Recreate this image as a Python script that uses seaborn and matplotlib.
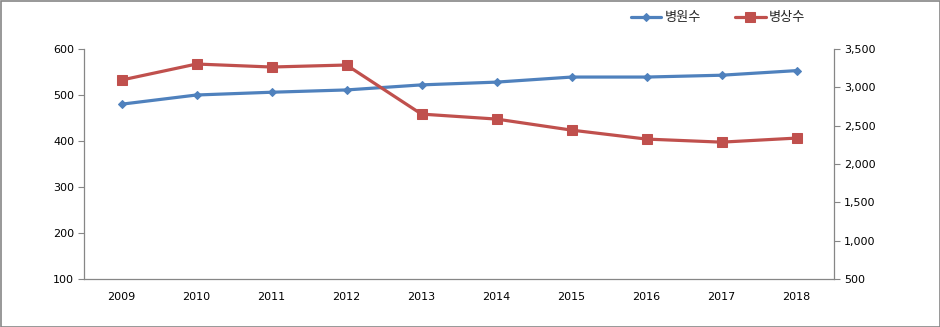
import matplotlib
matplotlib.use("Agg")
import matplotlib.pyplot as plt
import seaborn as sns
import pandas as pd
from matplotlib.patches import Rectangle
from matplotlib.ticker import FuncFormatter, FixedLocator

years = ["2009", "2010", "2011", "2012", "2013", "2014", "2015", "2016", "2017", "2018"]
hospitals = [480, 500, 506, 511, 522, 528, 539, 539, 543, 553]
beds = [3095, 3304, 3265, 3291, 2651, 2586, 2442, 2325, 2285, 2338]
label_hosp = "병원수"
label_beds = "병상수"

sns.set_theme(style="white")
plt.rcParams['font.family'] = ['DejaVu Sans', 'Noto Sans CJK KR']

df = pd.DataFrame({"year": years, "hosp": hospitals, "beds": beds})
df["x"] = range(len(years))

blue = "#4F81BD"
red = "#C0504D"
grey = "#868686"

fig = plt.figure(figsize=(9.4, 3.27), dpi=100)
ax = fig.add_axes([84/940, 1-279/327, 750/940, 230/327])
ax2 = ax.twinx()

sns.lineplot(data=df, x="x", y="hosp", ax=ax, color=blue, linewidth=2.3,
             marker="D", markersize=4.5, markeredgecolor=blue, label=label_hosp, legend=False)
sns.lineplot(data=df, x="x", y="beds", ax=ax2, color=red, linewidth=2.3,
             marker="s", markersize=6.5, markeredgecolor=red, label=label_beds, legend=False)

ax.set_xlim(-0.5, len(years) - 0.5)
ax.set_ylim(100, 600)
ax2.set_ylim(500, 3500)
ax.set_yticks(range(100, 601, 100))
ax2.set_yticks(range(500, 3501, 500))
ax2.yaxis.set_major_formatter(FuncFormatter(lambda v, p: f"{int(v):,}"))

ax.set_xticks(range(len(years)))
ax.set_xticklabels(years)
ax.xaxis.set_minor_locator(FixedLocator([i - 0.5 for i in range(len(years) + 1)]))
ax.tick_params(axis="x", which="major", length=0, pad=9, labelsize=8, colors="black")
ax.tick_params(axis="x", which="minor", length=4, width=0.8, color=grey, direction="out")
ax.tick_params(axis="y", length=4, width=0.8, color=grey, direction="out", labelsize=8,
               labelcolor="black", pad=3)
ax2.tick_params(axis="y", length=4, width=0.8, color=grey, direction="out", labelsize=8,
                labelcolor="black", pad=3)
ax.set_xlabel("")
ax.set_ylabel("")
ax2.set_ylabel("")

for a in (ax, ax2):
    for s in a.spines.values():
        s.set_color(grey)
        s.set_linewidth(0.9)
    a.spines["top"].set_visible(False)
ax.spines["right"].set_visible(False)
ax2.spines["left"].set_visible(False)
ax2.spines["bottom"].set_visible(False)
ax.grid(False)
ax2.grid(False)

h1, l1 = ax.get_legend_handles_labels()
h2, l2 = ax2.get_legend_handles_labels()
leg = fig.legend(h1 + h2, l1 + l2, loc="center", bbox_to_anchor=(718/940, 1-18/327),
                 ncol=2, frameon=False, handlelength=2.3, columnspacing=2.6,
                 handletextpad=0.25, prop={"family": ["Noto Sans CJK KR"], "size": 9.5})

fig.add_artist(Rectangle((0.5/940, 0.5/327), 1-1/940, 1-1/327, transform=fig.transFigure,
                         fill=False, edgecolor=grey, linewidth=1.2))

fig.savefig("out.png", dpi=100)
